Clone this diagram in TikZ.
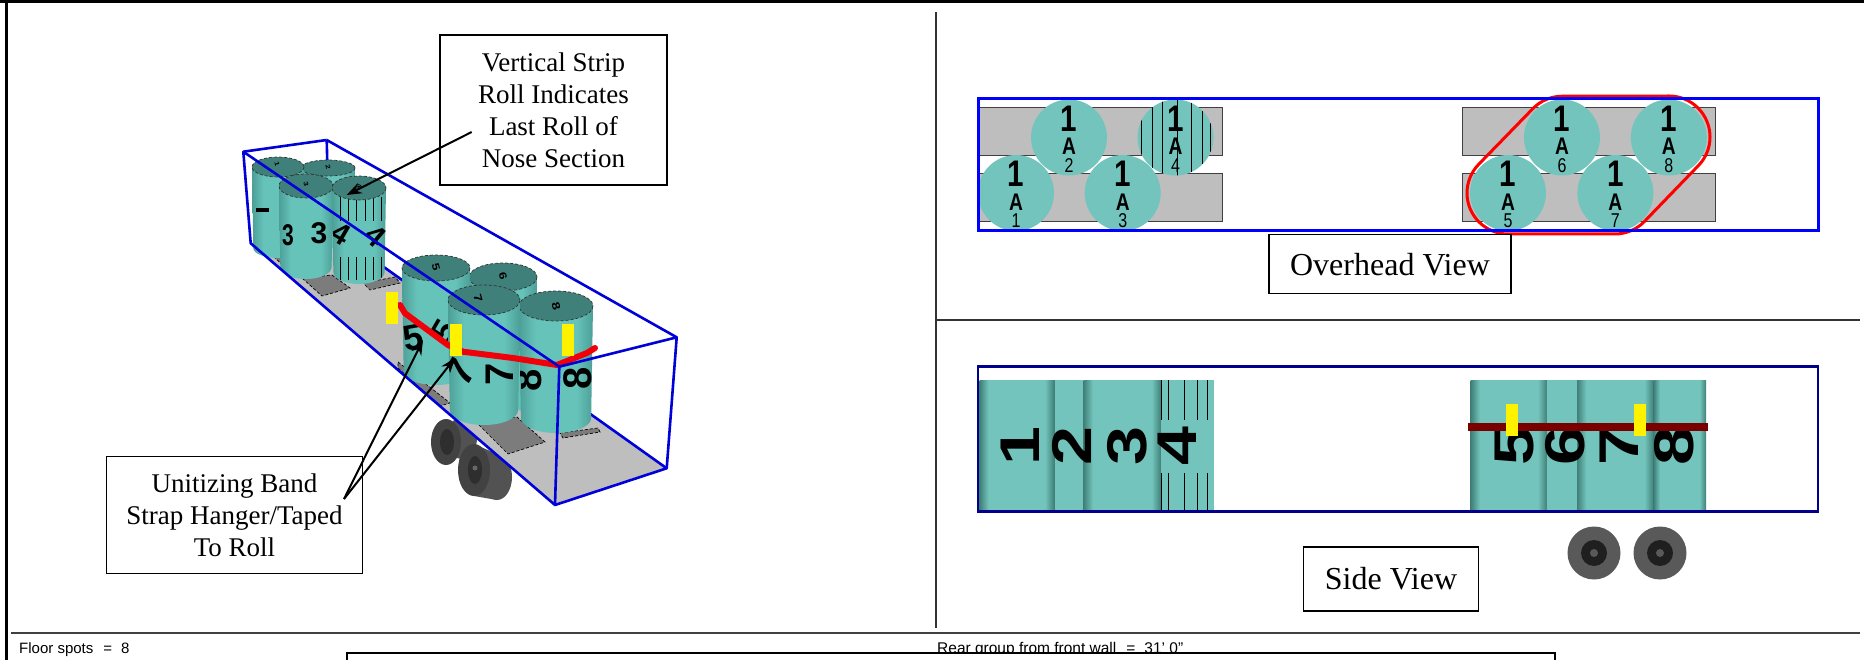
\documentclass[tikz,border=0pt]{standalone}
\usepackage{fontspec}
\usepackage{graphicx}
\setmainfont{Liberation Serif}
\setsansfont{Liberation Sans}
\usepackage{tikz}
\usetikzlibrary{arrows.meta, positioning, calc}
\definecolor{rollteal}{HTML}{73C4BC}
\definecolor{rollside}{HTML}{66C3BA}
\definecolor{rolledge}{HTML}{3F8078}
\definecolor{rollrim}{HTML}{4C9F97}
\definecolor{rolltopc}{HTML}{40807A}
\definecolor{floorgray}{HTML}{BEBEBE}
\definecolor{padgray}{HTML}{7C7C7C}
\definecolor{trailerblue}{HTML}{0000D8}
\definecolor{sidenavy}{HTML}{00008C}
\definecolor{bandred}{HTML}{F00008}
\definecolor{sideband}{HTML}{7A0000}
\pgfdeclarehorizontalshading{sideshade}{100bp}{color(0bp)=(rolledge); color(25bp)=(rolledge); color(31bp)=(rollteal); color(69bp)=(rollteal); color(75bp)=(rolledge); color(100bp)=(rolledge)}
\pgfdeclarehorizontalshading{solidshade}{100bp}{color(0bp)=(rollrim); color(25bp)=(rollrim); color(36bp)=(rollside); color(64bp)=(rollside); color(75bp)=(rollrim); color(100bp)=(rollrim)}
\tikzstyle{callout} = [rectangle, draw, line width=1.5pt, fill=white, align=center, inner sep=0pt, font=\fontsize{27}{32}\selectfont]
\tikzstyle{viewlabel} = [callout, font=\fontsize{32}{32}\selectfont]
\tikzstyle{arrow} = [line width=2pt,-{Stealth[length=15pt,width=11pt]}]
\tikzstyle{trailer} = [draw=trailerblue, line width=2.6pt, line join=round]
\tikzstyle{pad} = [fill=padgray, draw=black, densely dashed, line width=.7pt]
\tikzstyle{strip} = [fill=floorgray, draw=black!75, line width=1pt]
\tikzstyle{ovroll} = [circle, fill=rollteal, minimum size=76pt, inner sep=0pt]
\tikzstyle{yellowtag} = [fill=yellow]
\newcommand{\rollfont}[1]{\sffamily\bfseries\fontsize{#1}{#1}\selectfont}
% 3D roll: centre x, top y, x radius, y radius, bottom y, things on its side
\newcommand{\solidroll}[6]{%
  \begin{scope}
    \clip ({#1-#3},#2) -- ({#1-.95*#3},#5) arc[start angle=180,end angle=0,x radius={.95*#3},y radius=#4] -- ({#1+#3},#2) -- cycle;
    \shade[shading=solidshade] ({#1-#3},{#2-2}) rectangle ({#1+#3},{#5+#4});
    #6
  \end{scope}
  \draw[fill=rolltopc, draw=black!80, densely dashed, line width=.7pt] (#1,#2) ellipse [x radius=#3,y radius=#4];
}
\newcommand{\sideroll}[2]{\shade[shading=sideshade] (#1,380) rectangle (#2,510);}
\newcommand{\sidedigit}[2]{\node[inner sep=0pt, rotate=90, font=\rollfont{56}] (sd#2) at (#1,446) {\scalebox{1.25}[1]{#2}};}

\begin{document}
\begin{tikzpicture}[x=1pt, y=-1pt]
    \clip (0,0) rectangle (1864,660);
    \fill[white] (0,0) rectangle (1864,660);

    % 3D view
    \fill[black!68] (497,477) ellipse [x radius=15,y radius=23];
    \fill[black!68] (462,438) ellipse [x radius=15,y radius=21];
    \fill[black!74] (446,442) ellipse [x radius=15,y radius=23];
    \fill[black!82] (447,442) ellipse [x radius=7,y radius=13];
    \fill[black!68] (474,444) -- (497,454) -- (497,500) -- (474,496) -- cycle;
    \fill[black!74] (474,470) ellipse [x radius=16,y radius=26];
    \fill[black!82] (475,470) ellipse [x radius=7,y radius=14];
    \fill[black!60] (475,468) circle (2.5);

    \fill[floorgray] (250.7,243.3) -- (555,505) -- (666.7,468.3) -- (329,228) -- cycle;
    \draw[trailer] (326.7,140) -- (329,228) -- (666.7,468.3);
    \draw[pad] (272,255) -- (283,254) -- (302,272) -- (292,274) -- cycle;
    \draw[pad] (302,278) -- (332,275) -- (350,288) -- (322,296) -- cycle;
    \draw[pad] (363,283) -- (395,277) -- (400,283) -- (370,290) -- cycle;
    \draw[pad] (398,362) -- (450,403) -- (440,406) -- (398,368) -- cycle;
    \draw[pad] (477,423) -- (517,417) -- (545,442) -- (508,454) -- cycle;
    \draw[pad] (560,433) -- (598,428) -- (600,432) -- (563,438) -- cycle;

    \solidroll{328}{168}{27}{8}{240}{}
    \solidroll{278}{167}{26}{10}{248}{
      \fill[black] (256,208) rectangle (269,212);}
    \solidroll{306}{186}{27}{12}{267}{
      \node[inner sep=0pt, font=\rollfont{30}] (td3) at (319,233) {3};
      \node[inner sep=0pt, font=\rollfont{30}] (tc3) at (288,235) {\scalebox{.7}[1]{3}};}
    \solidroll{359}{188}{27}{12}{272}{
      \node[inner sep=0pt, rotate=-30, font=\rollfont{30}] (td4) at (341,234) {4};
      \node[inner sep=0pt, rotate=-40, font=\rollfont{30}] (tc4) at (376,236) {4};
      \foreach \x in {340,348,356,365,373,381} {
        \draw[black, line width=1pt] (\x,197) -- (\x,221);
        \draw[black, line width=1pt] (\x,257) -- (\x,280);
      }}
    \solidroll{503}{277}{34}{14}{398}{}
    \solidroll{436}{268}{34}{13}{372}{
      \node[inner sep=0pt, rotate=10, font=\rollfont{36}] (td5) at (413,338) {5};
      \node[inner sep=0pt, rotate=60, font=\rollfont{36}] (tc5) at (445,332) {5};}
    \solidroll{556}{306}{37}{15}{418}{
      \node[inner sep=0pt, rotate=90, font=\rollfont{40}] (td8) at (528,380) {8};
      \node[inner sep=0pt, rotate=90, font=\rollfont{40}] (tc8) at (578,378) {8};}
    \solidroll{484}{300}{36}{15}{410}{
      \node[inner sep=0pt, rotate=60, font=\rollfont{40}] (td7) at (460,372) {7};
      \node[inner sep=0pt, rotate=90, font=\rollfont{40}] (tc7) at (500,374) {7};}
    % numbers on the roll tops
    \foreach \n/\x/\y/\s in {1/277/164/8,2/328/167/8,3/306/184/8,4/359/186/8,5/436/267/13,6/503/276/13,7/478/298/14,8/556/306/14} {
      \node[inner sep=0pt, rotate=-75, yscale=.8, font=\rollfont{\s}] (tn\n) at (\x,\y) {\n};
    }

    \draw[bandred, line width=6pt, line join=round, line cap=round] plot coordinates {(400,305) (405,313.3) (448,345) (463,351.7) (513,358) (557,365) (587,353) (595,348)};
    \fill[yellowtag] (386,292) rectangle (398,324);
    \fill[yellowtag] (450,324) rectangle (462,356);
    \fill[yellowtag] (562,324) rectangle (574,356);
    \draw[trailer] (326.7,140) -- (243.3,151.7) -- (250.7,243.3) -- (555,505) -- (666.7,468.3) -- (676.7,337.3) -- (559.3,366.7) -- (555,505);
    \draw[trailer] (243.3,151.7) -- (559.3,366.7);
    \draw[trailer] (326.7,140) -- (676.7,337.3);

    % Overhead view
    \foreach \xa/\xb in {978/1222.6,1462/1715} {
      \draw[strip] (\xa,108) rectangle (\xb,156);
      \draw[strip] (\xa,173.7) rectangle (\xb,222);
    }
    \foreach \n/\x/\y in {1/1016/193,2/1069/137.5,3/1122.7/193,4/1175.5/137.5,5/1508/193,6/1562/137.5,7/1615.4/193,8/1668.8/137.5} {
      \node[ovroll] (ov\n) at (\x,\y) {};
    }
    \begin{scope}
      \clip (1175.5,137.5) circle (38);
      \foreach \x in {1141,1152,1162,1177,1191,1202,1210} {
        \draw[black, line width=1pt] (\x,99) -- (\x,176);
      }
    \end{scope}
    \foreach \n in {1,...,8} {
      \node[inner sep=0pt, font=\rollfont{37}] (ovone\n) at ($(ov\n)+(0,-19)$) {\scalebox{.8}[1]{1}};
      \node[inner sep=0pt, font=\rollfont{24}] (ova\n) at ($(ov\n)+(0,9)$) {\scalebox{.8}[1]{A}};
      \node[inner sep=0pt, font=\sffamily\fontsize{20}{20}\selectfont] (ovn\n) at ($(ov\n)+(0,28)$) {\scalebox{.8}[1]{\n}};
    }
    \draw[red, line width=3pt, line join=round] (1478.6,164.4) -- (1532.6,108.9) arc[start angle=223.7,end angle=270,radius=41] -- (1669,96) arc[start angle=270,end angle=403.9,radius=41] -- (1644.5,221.4) arc[start angle=43.9,end angle=90,radius=41] -- (1508,234) arc[start angle=90,end angle=223.7,radius=41] -- cycle;
    \node[draw=blue, line width=3pt, minimum width=840pt, minimum height=132pt, inner sep=0pt] (ovtrailer) at (1398,165) {};
    \node[viewlabel, minimum width=242pt, minimum height=59pt, below=1.5pt of ovtrailer, xshift=-8pt] (ovlabel) {Overhead View};

    % Side view
    \sideroll{979.6}{1054}
    \fill[rollteal] (1054,380) rectangle (1084,510);
    \draw[rolledge, line width=.8pt] (1054,380) -- (1054,510);
    \sideroll{1083.5}{1161}
    \fill[rollteal] (1161,380) rectangle (1214,510);
    \foreach \x in {1161,1168,1184,1197,1207} {
      \draw[black, line width=1pt] (\x,380) -- (\x,420);
      \draw[black, line width=1pt] (\x,473) -- (\x,510);
    }
    \sideroll{1470.7}{1547}
    \fill[rollteal] (1547,380) rectangle (1577,510);
    \sideroll{1577}{1653.6}
    \sideroll{1653.6}{1706}
    \foreach \x/\d in {1020/1,1072/2,1127/3,1177/4,1514/5,1565/6,1619/7,1674/8} {
      \sidedigit{\x}{\d}
    }
    \fill[sideband] (1468.4,422.7) rectangle (1708,431);
    \fill[yellowtag] (1506,404) rectangle (1518,436);
    \fill[yellowtag] (1634,404) rectangle (1646,436);
    \node[draw=sidenavy, line width=2.6pt, minimum width=840pt, minimum height=145pt, inner sep=0pt] (sidetrailer) at (1398,439) {};
    \foreach \n/\x in {1/1594,2/1660} {
      \node[circle, fill=black!65, minimum size=53pt, inner sep=0pt] (wheel\n) at (\x,553) {};
      \node[circle, fill=black!88, minimum size=26pt, inner sep=0pt] (rim\n) at (\x,553) {};
      \node[circle, fill=black!65, minimum size=8pt, inner sep=0pt] (hub\n) at (\x,553) {};
    }
    \node[viewlabel, minimum width=175pt, minimum height=64pt] (sidelabel) at (1391,579) {Side View};

    % Frame and text rows
    \fill[black] (0,0) rectangle (1864,3);
    \fill[black] (5,0) rectangle (7.5,660);
    \draw[black!75, line width=2.4pt] (11,633) -- (1860,633);
    \draw[black!80, line width=1.2pt] (936,12) -- (936,628);
    \draw[black!80, line width=1.2pt] (936,320) -- (1860,320);
    \node[anchor=base west, inner sep=0pt, font=\sffamily\fontsize{15}{15}\selectfont] (floorspots) at (19,653) {Floor spots\hspace{10pt}=\hspace{9pt}8};
    \node[anchor=base west, inner sep=0pt, font=\sffamily\fontsize{15.5}{15}\selectfont] (reargroup) at (937,653) {Rear group from front wall\hspace{10pt}=\hspace{9pt}31' 0"};
    \node[draw, line width=2pt, fill=white, minimum width=1208pt, minimum height=60pt, inner sep=0pt, anchor=north west] (notebox) at (345.7,651.7) {};

    % Callouts
    \node[callout, minimum width=227pt, minimum height=150pt] (striplabel) at (553.5,110) {Vertical Strip\\Roll Indicates\\Last Roll of\\Nose Section};
    \node[callout, minimum width=256pt, minimum height=117pt] (bandlabel) at (234.5,515) {Unitizing Band\\Strap Hanger/Taped\\To Roll};
    \coordinate (stripstart) at (471.7,132);
    \coordinate (striptip) at (346.7,195);
    \coordinate (bandstart) at (344,499);
    \coordinate (bandtipa) at (423,340);
    \coordinate (bandtipb) at (455,358);

    % Arrows
    \draw[arrow] (stripstart) -- (striptip);
    \draw[arrow] (bandstart) -- (bandtipa);
    \draw[arrow] (bandstart) -- (bandtipb);
\end{tikzpicture}
\end{document}
